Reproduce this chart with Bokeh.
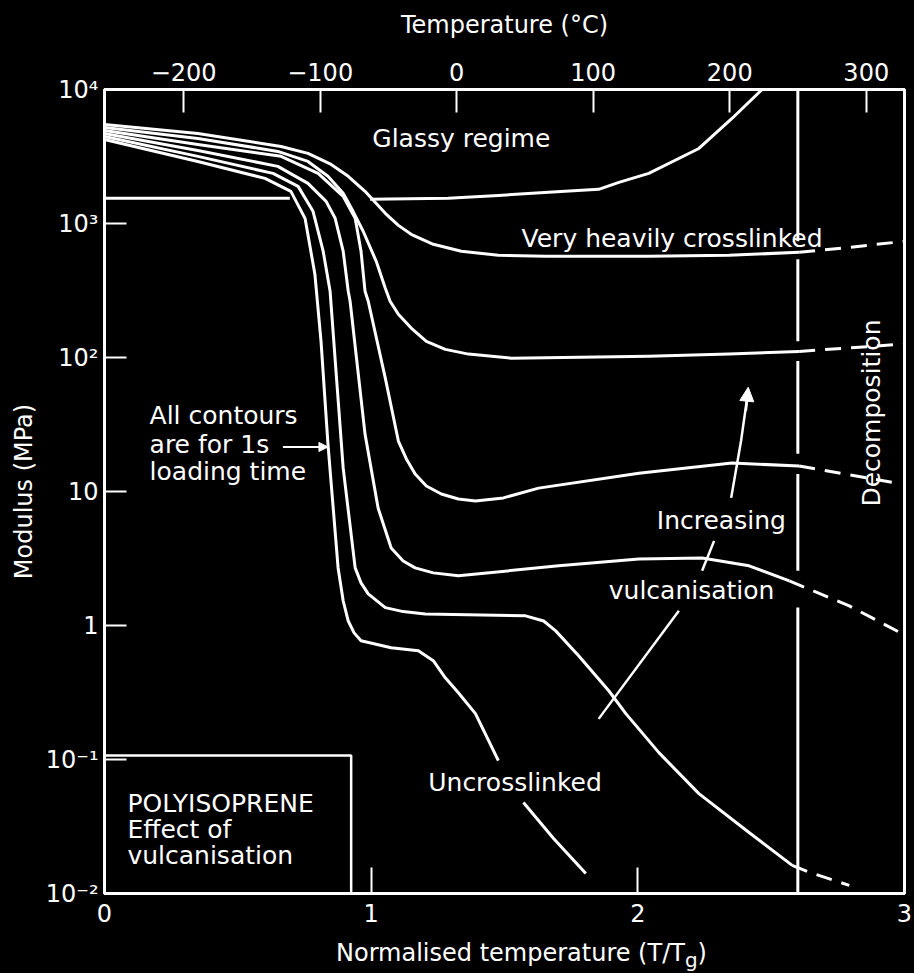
import math
from bokeh.plotting import figure
from bokeh.layouts import column
from bokeh.models import (Range1d, LinearAxis, FixedTicker, CustomJSTickFormatter,
                          Arrow, NormalHead, Div)
from bokeh.embed import file_html
from bokeh.resources import INLINE
from bokeh.core.properties import value

FONT = "DejaVu Sans"
FS = "24px"
TFS = "25px"

# ---------------- data (x = T/Tg, y = modulus in MPa) ----------------
x_ticks = [0, 1, 2, 3]
temp_ticks = [-200, -100, 0, 100, 200, 300]
y_ticks = [0.01, 0.1, 1, 10, 100, 1000, 10000]
y_tick_labels = ["10⁻²", "10⁻¹", "1", "10", "10²", "10³", "10⁴"]

# Glassy regime line (two parts, broken where the contours cross it)
glassy_a_x = [0, 0.695]
glassy_a_y = [1540, 1540]
glassy_b_x = [0.996, 1.289, 1.477, 1.665, 1.853, 1.929, 2.041, 2.229, 2.353, 2.466]
glassy_b_y = [1514, 1540, 1620, 1708, 1798, 2028, 2365, 3630, 6080, 10000]

# Very heavily crosslinked
c1_x = [0, 0.350, 0.662, 0.763, 0.850, 0.914, 0.977, 1.053, 1.102, 1.150, 1.233, 1.338, 1.477, 1.654, 2.041, 2.342, 2.605]
c1_y = [5480, 4695, 3760, 3335, 2760, 2250, 1738, 1191, 968, 830, 700, 621, 579, 569, 569, 579, 610]
c1_dash_x = [2.605, 2.793, 3.0]
c1_dash_y = [610, 664, 736]

c2_x = [0, 0.350, 0.650, 0.763, 0.838, 0.895, 0.932, 0.970, 1.019, 1.053, 1.071, 1.102, 1.150, 1.207, 1.278, 1.365, 1.526, 2.041, 2.342, 2.605]
c2_y = [5210, 4315, 3450, 2905, 2250, 1679, 1233, 875, 522, 329, 263, 210, 166, 132, 115, 106, 98.8, 102, 106, 111]
c2_dash_x = [2.605, 3.0]
c2_dash_y = [111, 126]

c3_x = [0, 0.350, 0.662, 0.801, 0.895, 0.940, 0.962, 0.977, 0.989, 1.053, 1.102, 1.132, 1.165, 1.207, 1.263, 1.327, 1.391, 1.496, 1.628, 2.004, 2.353, 2.605]
c3_y = [4945, 3890, 3170, 2365, 1594, 1093, 621, 312, 263, 70.2, 23.8, 17.5, 13.5, 11.0, 9.58, 8.79, 8.49, 8.96, 10.6, 13.7, 16.3, 15.5]
c3_dash_x = [2.605, 2.793, 2.989]
c3_dash_y = [15.5, 13.3, 11.4]

c4_x = [0, 0.350, 0.650, 0.763, 0.831, 0.865, 0.895, 0.914, 0.921, 0.977, 1.026, 1.075, 1.120, 1.165, 1.233, 1.327, 1.703, 2.004, 2.241, 2.417, 2.568]
c4_y = [4695, 3510, 2670, 1993, 1462, 1093, 621, 312, 263, 26.8, 7.53, 3.79, 3.03, 2.69, 2.47, 2.35, 2.79, 3.14, 3.19, 2.79, 2.15]
c4_dash_x = [2.568, 2.793, 2.992]
c4_dash_y = [2.15, 1.40, 0.867]

c5_x = [0, 0.350, 0.632, 0.726, 0.782, 0.820, 0.846, 0.895, 0.940, 0.962, 0.989, 1.053, 1.120, 1.203, 1.579, 1.647, 1.692, 1.778, 1.891, 1.955, 2.079, 2.229, 2.417, 2.579]
c5_y = [4465, 3170, 2365, 1893, 1233, 621, 312, 15.0, 2.69, 2.08, 1.72, 1.36, 1.27, 1.22, 1.18, 1.08, 0.912, 0.594, 0.326, 0.220, 0.1125, 0.0556, 0.0285, 0.0162]
c5_dash_x = [2.579, 2.643, 2.793]
c5_dash_y = [0.0162, 0.0144, 0.0115]

# Uncrosslinked (broken by its label)
c6_x = [0, 0.350, 0.602, 0.699, 0.752, 0.789, 0.812, 0.838, 0.876, 0.895, 0.914, 0.936, 0.962, 1.075, 1.177, 1.233, 1.278, 1.327, 1.391, 1.477]
c6_y = [4240, 2905, 2170, 1738, 1093, 418, 132, 22.6, 2.69, 1.53, 1.08, 0.881, 0.769, 0.682, 0.647, 0.546, 0.407, 0.315, 0.220, 0.098]
c6_tail_x = [1.571, 1.684, 1.805]
c6_tail_y = [0.0477, 0.0257, 0.0141]

# Decomposition line (x position and its segments, broken at crossings)
decomp_x = 2.60
decomp_segments = [(10000, 736), (541, 132), (94, 19.1), (13.5, 2.56), (1.36, 0.01)]

# "Increasing vulcanisation" arrow pieces
inc_low_x, inc_low_y = [1.853, 2.154], [0.201, 1.29]
inc_mid_x, inc_mid_y = [2.241, 2.286], [2.56, 4.28]
inc_up_x, inc_up_y = [2.350, 2.387, 2.410], [8.96, 23.8, 50.0]

# label box
box_x = [0, 0.925, 0.925]
box_y = [0.107, 0.107, 0.01]

# ---------------- figure ----------------
p = figure(width=914, height=930,
           x_range=Range1d(0, 3), y_range=Range1d(0.01, 10000), y_axis_type="log",
           output_backend="svg", toolbar_location=None,
           min_border_left=104, min_border_right=10, min_border_top=89, min_border_bottom=37,
           background_fill_color="black", border_fill_color="black",
           outline_line_color="white", outline_line_width=3)
p.grid.visible = False

def style_axis(ax):
    ax.axis_line_color = "white"
    ax.axis_line_width = 3
    ax.major_tick_line_color = "white"
    ax.major_tick_line_width = 2
    ax.major_tick_out = 0
    ax.minor_tick_line_color = None
    ax.major_label_text_color = "white"
    ax.major_label_text_font = FONT
    ax.major_label_text_font_size = FS
    ax.axis_label_text_color = "white"
    ax.axis_label_text_font = FONT
    ax.axis_label_text_font_size = FS
    ax.axis_label_text_font_style = "normal"

# bottom axis
xa = p.xaxis[0]
xa.ticker = FixedTicker(ticks=x_ticks)
style_axis(xa)
xa.major_tick_in = 26
xa.major_label_standoff = 10

# left axis
ya = p.yaxis[0]
ya.ticker = FixedTicker(ticks=y_ticks)
mapping = {str(round(math.log10(t))): lab for t, lab in zip(y_ticks, y_tick_labels)}
js_map = "{" + ",".join('"%s":"%s"' % (k, v) for k, v in mapping.items()) + "}"
ya.formatter = CustomJSTickFormatter(code="const m = %s; return m[String(Math.round(Math.log10(tick)))];" % js_map)
style_axis(ya)
ya.major_tick_in = 22
ya.major_label_standoff = 6
ya.axis_label = "Modulus (MPa)"
ya.axis_label_standoff = 5

# top axis in degrees C
p.extra_x_ranges = {"temp": Range1d(-258, 328)}
top = LinearAxis(x_range_name="temp", ticker=FixedTicker(ticks=temp_ticks),
                 axis_label="Temperature (°C)")
top.formatter = CustomJSTickFormatter(code="return tick < 0 ? '\u2212' + Math.abs(tick) : String(tick);")
style_axis(top)
top.major_tick_in = 23
top.major_label_standoff = 9
top.axis_label_standoff = 21
p.add_layout(top, "above")

LW = 3
W = "white"
DASH = "16 10"

p.line(glassy_a_x, glassy_a_y, line_color=W, line_width=LW)
p.line(glassy_b_x, glassy_b_y, line_color=W, line_width=LW, line_join="round")

for xs, ys, dx, dy in [(c1_x, c1_y, c1_dash_x, c1_dash_y), (c2_x, c2_y, c2_dash_x, c2_dash_y),
                       (c3_x, c3_y, c3_dash_x, c3_dash_y), (c4_x, c4_y, c4_dash_x, c4_dash_y),
                       (c5_x, c5_y, c5_dash_x, c5_dash_y)]:
    p.line(xs, ys, line_color=W, line_width=LW, line_join="round")
    p.line(dx, dy, line_color=W, line_width=LW, line_dash=DASH)

p.line(c6_x, c6_y, line_color=W, line_width=LW, line_join="round")
p.line(c6_tail_x, c6_tail_y, line_color=W, line_width=LW, line_join="round")

p.multi_line([[decomp_x, decomp_x] for _ in decomp_segments],
             [[a, b] for a, b in decomp_segments], line_color=W, line_width=LW)

p.line(box_x, box_y, line_color=W, line_width=2.5)

p.line(inc_low_x, inc_low_y, line_color=W, line_width=2.5)
p.line(inc_mid_x, inc_mid_y, line_color=W, line_width=2.5)
p.line(inc_up_x, inc_up_y, line_color=W, line_width=2.5, line_join="round")
p.add_layout(Arrow(x_start=2.405, y_start=40, x_end=2.414, y_end=60,
                   line_color=W, line_width=2.5,
                   end=NormalHead(size=14, fill_color=W, line_color=W)))
p.add_layout(Arrow(x_start=0.669, y_start=21.5, x_end=0.838, y_end=21.5,
                   line_color=W, line_width=2,
                   end=NormalHead(size=9, fill_color=W, line_color=W)))

def txt(x, y, s, align="left", angle=0.0, size=TFS):
    p.text(x=[x], y=[y], text=[s], text_color=W, text_font=value(FONT),
           text_font_size=size, text_align=align, text_baseline="middle", angle=angle)

txt(1.338, 4315, "Glassy regime", align="center")
txt(1.564, 774, "Very heavily crosslinked")
txt(2.876, 38.5, "Decomposition", align="center", angle=math.pi / 2)
txt(0.169, 36.6, "All contours")
txt(0.169, 22.6, "are for 1s")
txt(0.169, 14.0, "loading time")
txt(2.071, 6.03, "Increasing")
txt(1.891, 1.81, "vulcanisation")
txt(1.214, 0.0671, "Uncrosslinked")
txt(0.086, 0.0469, "POLYISOPRENE")
txt(0.086, 0.030, "Effect of")
txt(0.086, 0.0192, "vulcanisation")

# bottom axis title (with a real subscript g)
xlabel = Div(text="Normalised temperature (T/T<sub>g</sub>)", width=520, height=40,
             margin=(0, 0, 0, 336),
             styles={"color": "white", "font-family": FONT, "font-size": "24px",
                     "padding-top": "8px", "line-height": "30px", "white-space": "nowrap"})

page = column(p, xlabel)

template = """{% block postamble %}<style>body{background-color:#000;}</style>{% endblock %}
"""
open("out.html", "w").write(file_html(page, INLINE, template=template))
